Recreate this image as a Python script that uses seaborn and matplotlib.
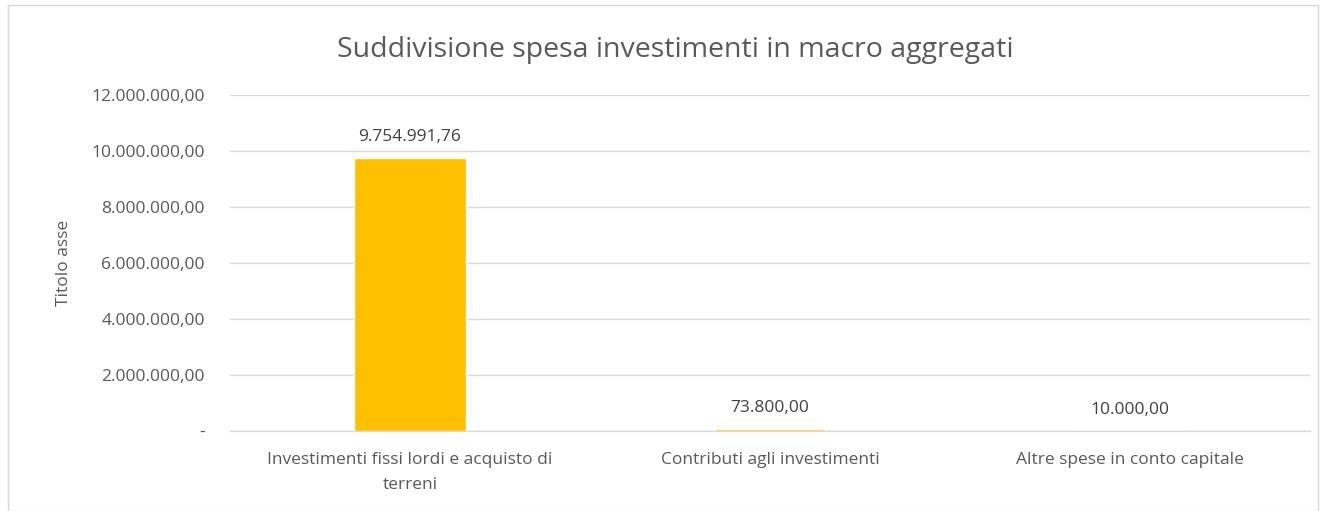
import matplotlib
matplotlib.use("Agg")
import matplotlib.pyplot as plt
import seaborn as sns
import pandas as pd
from matplotlib.patches import Rectangle
from matplotlib.ticker import FuncFormatter

categories = ["Investimenti fissi lordi e acquisto di\nterreni",
              "Contributi agli investimenti",
              "Altre spese in conto capitale"]
values = [9754991.76, 73800.00, 10000.00]
yticks = [0, 2000000, 4000000, 6000000, 8000000, 10000000, 12000000]

def it_fmt(v):
    s = f"{v:,.2f}"
    return s.replace(",", "X").replace(".", ",").replace("X", ".")

sns.set_theme(style="white")
plt.rcParams['font.family'] = ['Open Sans', 'DejaVu Sans']
TXT = "#595959"
GRID = "#d9d9d9"
FS = 12.5

df = pd.DataFrame({"cat": categories, "val": values})
fig = plt.figure(figsize=(13.23, 5.11), dpi=100)
ax = fig.add_axes([230/1323, 1-431/511, 1080/1323, 336/511])

sns.barplot(data=df, x="cat", y="val", color="#FFC000", width=0.31,
            saturation=1, ax=ax, zorder=3)

ax.set_ylim(0, 12000000)
ax.set_yticks(yticks)
ax.yaxis.set_major_formatter(FuncFormatter(lambda v, p: "-" if v == 0 else it_fmt(v)))
ax.grid(axis="y", color=GRID, linewidth=1, zorder=0)
ax.grid(axis="x", visible=False)
for s in ["top", "right", "left"]:
    ax.spines[s].set_visible(False)
ax.spines["bottom"].set_color(GRID)
ax.spines["bottom"].set_linewidth(1)
ax.tick_params(axis="both", length=0, colors=TXT, labelsize=FS)
ax.tick_params(axis="y", pad=18)
ax.tick_params(axis="x", pad=15)
for lbl in ax.get_xticklabels():
    lbl.set_multialignment("center")
    lbl.set_linespacing(1.75)
ax.set_xlabel("")
ax.set_ylabel("Titolo asse", color=TXT, fontsize=FS, labelpad=14)

for p, v in zip(ax.patches, values):
    ax.annotate(it_fmt(v), (p.get_x() + p.get_width()/2, p.get_height()),
                xytext=(0, 9), textcoords="offset points", ha="center",
                va="bottom", color="#404040", fontsize=FS)

fig.text(675/1323, 1 - 50/511,
         "Suddivisione spesa investimenti in macro aggregati",
         ha="center", va="center", color=TXT, fontsize=20.5)

fig.patches.append(Rectangle((8/1323, 0), 1310/1323, 1 - 5/511,
                             transform=fig.transFigure, fill=False,
                             edgecolor=GRID, linewidth=1))

fig.savefig("out.png", dpi=100)
